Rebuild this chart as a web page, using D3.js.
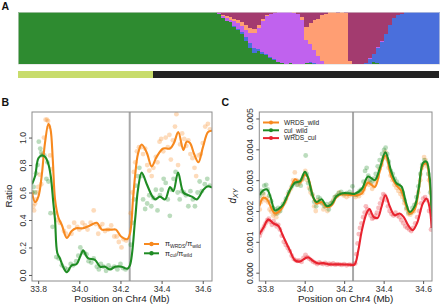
<!DOCTYPE html>
<html><head><meta charset="utf-8">
<script src="https://cdn.jsdelivr.net/npm/d3@7"></script>
<style>
body{margin:0;background:#fff;}
svg{display:block;font-family:"Liberation Sans",Arial,Helvetica,sans-serif;}
</style></head><body>
<svg id="chart" width="440" height="306"></svg>
<script>
// ---------- Panel A data (ancestry proportions per individual) ----------
const clusterKeys = ["green","blue","purple","salmon","maroon"];
const clusterColors = ["#2e8b30","#4a6fdc","#c062ee","#ff9e73","#a33b6f"];
const qGreen = [1,1,1,1,1,1,1,1,1,1,1,1,1,1,1,1,1,1,1,1,1,1,1,1,1,1,1,1,1,1,1,1,1,1,
 1,1,1,1,1,1,1,1,1,1,1,1,1,1,1,1,
 .97,.88,.82,.80,.72,.66,.58,.45,.30,.22,.25,.20,.18,.12,.08,.04,.01,0,.01,0,0,0,.02,.02,0,0,0,0,0,0,0,0,0,0,0,0,0,0,0,.03,.02,0,0,0,0,0,0,0,0,0,0,0,0,0,0,0];
const qBlue = [0,0,0,0,0,0,0,0,0,0,0,0,0,0,0,0,0,0,0,0,0,0,0,0,0,0,0,0,0,0,0,0,0,0,
 0,0,0,0,0,0,0,0,0,0,0,0,0,0,0,0,
 0,0,.01,0,.02,.02,.03,.06,.10,.08,.04,.03,.02,.02,.01,0,0,0,0,0,0,0,0,.02,.02,0,0,0,0,0,0,0,0,0,0,0,0,.02,.10,.17,.28,.42,.58,.75,.88,.95,.97,1,1,1,1,1,1,1,1,1];
const qPurple = [0,0,0,0,0,0,0,0,0,0,0,0,0,0,0,0,0,0,0,0,0,0,0,0,0,0,0,0,0,0,0,0,0,0,
 0,0,0,0,0,0,0,0,0,0,0,0,0,0,0,0,
 .01,.04,.06,.05,.08,.10,.12,.15,.20,.30,.40,.60,.72,.82,.90,.96,.99,1,.99,.98,.97,.85,.45,.35,.25,.15,.05,0,0,0,0,0,0,0,0,0,0,0,.02,0,.02,.03,0,0,0,0,0,0,0,0,0,0,0,0,0,0];
const qSalmon = [0,0,0,0,0,0,0,0,0,0,0,0,0,0,0,0,0,0,0,0,0,0,0,0,0,0,0,0,0,0,0,0,0,0,
 0,0,0,0,0,0,0,0,0,0,0,0,0,0,0,0,
 0,.02,.03,.05,.05,.06,.07,.09,.10,.08,.06,.04,.02,.01,0,0,0,0,0,.02,0,.05,.25,.40,.58,.72,.90,.97,1,1,.99,1,.98,.05,0,0,0,0,0,0,0,0,0,0,0,0,0,0,0,0,0,0,0,0,0,0];
const qMaroon = [0,0,0,0,0,0,0,0,0,0,0,0,0,0,0,0,0,0,0,0,0,0,0,0,0,0,0,0,0,0,0,0,0,0,
 0,0,0,0,0,0,0,0,0,0,0,0,0,0,0,0,
 .02,.06,.08,.10,.13,.16,.20,.25,.30,.32,.25,.13,.06,.03,.01,0,0,0,0,0,.03,.10,.28,.21,.15,.13,.05,.03,0,0,.01,0,.02,.95,1,1,1,.98,.88,.80,.68,.55,.42,.25,.12,.05,.03,0,0,0,0,0,0,0,0,0];
const popNames = ["cultivated","wild"];
const popSizes = [34, 72];
const popColors = ["#c8dc6c","#222222"];

// ---------- Panels B, C shared ----------
const xTicks = [33.8, 34.0, 34.2, 34.4, 34.6];
const markerPos = 34.245;

// ---------- Panel B data ----------
const yTicksB = [0, 0.2, 0.4, 0.6, 0.8, 1.0];
const lineB_wrds = [[33.770,0.60],[33.785,0.53],[33.801,0.57],[33.817,0.72],[33.833,0.96],[33.850,1.10],[33.860,1.06],[33.871,0.84],[33.882,0.55],[33.898,0.42],[33.916,0.36],[33.939,0.27],[33.963,0.32],[33.984,0.34],[34.018,0.34],[34.052,0.36],[34.085,0.38],[34.109,0.33],[34.130,0.33],[34.159,0.33],[34.178,0.33],[34.203,0.28],[34.232,0.26],[34.246,0.30],[34.261,0.55],[34.271,0.72],[34.285,0.88],[34.303,0.95],[34.328,0.89],[34.352,0.79],[34.376,0.86],[34.408,0.92],[34.441,0.92],[34.460,0.96],[34.481,1.04],[34.506,0.91],[34.522,0.97],[34.538,0.96],[34.558,0.88],[34.579,0.82],[34.601,0.93],[34.626,1.04],[34.645,1.05]];
const lineB_cul = [[33.770,0.66],[33.785,0.72],[33.801,0.85],[33.817,0.87],[33.833,0.86],[33.849,0.81],[33.861,0.72],[33.874,0.52],[33.882,0.40],[33.893,0.16],[33.906,0.12],[33.921,0.06],[33.939,0.02],[33.963,0.07],[33.987,0.08],[34.003,0.13],[34.019,0.18],[34.033,0.14],[34.044,0.12],[34.076,0.11],[34.101,0.06],[34.125,0.06],[34.149,0.04],[34.174,0.06],[34.206,0.06],[34.233,0.045],[34.246,0.07],[34.271,0.40],[34.285,0.62],[34.303,0.745],[34.328,0.66],[34.352,0.58],[34.368,0.55],[34.392,0.57],[34.417,0.55],[34.441,0.64],[34.457,0.61],[34.480,0.745],[34.506,0.60],[34.530,0.58],[34.548,0.57],[34.571,0.55],[34.603,0.62],[34.626,0.645],[34.645,0.635]];
const ptsB_wrds = [[33.772,0.60],[33.776,0.50],[33.780,0.47],[33.785,0.52],[33.790,0.55],[33.795,0.60],[33.800,0.64],[33.808,0.73],[33.815,0.66],[33.822,0.88],[33.828,1.00],[33.836,1.13],[33.843,1.13],[33.848,1.12],[33.852,1.08],[33.858,0.87],[33.865,0.77],[33.880,0.45],[33.890,0.40],[33.905,0.38],[33.925,0.32],[33.935,0.30],[33.950,0.35],[33.962,0.30],[33.975,0.38],[33.990,0.35],[34.000,0.33],[34.015,0.38],[34.028,0.36],[34.040,0.33],[34.055,0.38],[34.070,0.47],[34.080,0.37],[34.092,0.30],[34.100,0.35],[34.112,0.37],[34.125,0.32],[34.140,0.33],[34.155,0.36],[34.170,0.28],[34.182,0.28],[34.192,0.24],[34.205,0.20],[34.215,0.26],[34.228,0.25],[34.250,0.45],[34.258,0.60],[34.265,0.75],[34.272,0.82],[34.280,0.90],[34.290,0.93],[34.300,0.93],[34.310,0.88],[34.320,0.92],[34.330,0.80],[34.340,0.76],[34.352,0.72],[34.360,0.78],[34.372,0.86],[34.380,0.82],[34.390,0.97],[34.398,0.99],[34.408,0.90],[34.420,1.00],[34.430,0.93],[34.438,1.02],[34.445,0.84],[34.455,0.98],[34.465,1.08],[34.472,1.17],[34.480,0.80],[34.490,0.95],[34.500,1.03],[34.510,0.99],[34.520,0.94],[34.530,0.98],[34.540,0.88],[34.550,0.85],[34.560,0.78],[34.568,0.72],[34.580,0.87],[34.590,0.88],[34.600,0.96],[34.612,1.08],[34.625,1.10],[34.635,1.06]];
const ptsB_cul = [[33.772,0.60],[33.778,0.64],[33.785,0.60],[33.790,0.74],[33.797,0.80],[33.803,0.97],[33.810,0.92],[33.815,0.89],[33.820,0.87],[33.830,0.87],[33.840,0.70],[33.845,0.82],[33.850,0.68],[33.860,0.45],[33.870,0.35],[33.888,0.13],[33.900,0.12],[33.915,0.07],[33.930,0.05],[33.945,0.04],[33.958,0.08],[33.970,0.07],[33.985,0.10],[33.995,0.14],[34.005,0.20],[34.015,0.17],[34.025,0.16],[34.035,0.15],[34.045,0.10],[34.058,0.09],[34.070,0.12],[34.085,0.06],[34.095,0.04],[34.105,0.08],[34.118,0.06],[34.130,0.03],[34.142,0.07],[34.155,0.05],[34.170,0.06],[34.185,0.04],[34.200,0.08],[34.212,0.05],[34.225,0.04],[34.250,0.22],[34.258,0.38],[34.266,0.55],[34.274,0.65],[34.284,0.72],[34.292,0.78],[34.300,0.72],[34.310,0.55],[34.320,0.48],[34.330,0.52],[34.340,0.58],[34.350,0.50],[34.360,0.56],[34.372,0.62],[34.380,0.47],[34.392,0.58],[34.400,0.62],[34.410,0.70],[34.420,0.67],[34.430,0.55],[34.440,0.43],[34.450,0.62],[34.458,0.70],[34.468,0.75],[34.478,0.60],[34.488,0.55],[34.498,0.61],[34.508,0.60],[34.518,0.58],[34.530,0.50],[34.540,0.61],[34.552,0.55],[34.562,0.50],[34.575,0.60],[34.585,0.68],[34.595,0.61],[34.610,0.66],[34.622,0.70],[34.635,0.65]];

// ---------- Panel C data ----------
const yTicksC = [0, 0.001, 0.002, 0.003, 0.004, 0.005];
const lineC_wrdsWild = [[33.770,0.00215],[33.790,0.00243],[33.809,0.00238],[33.827,0.00215],[33.849,0.00192],[33.866,0.00196],[33.890,0.00215],[33.925,0.00265],[33.951,0.00303],[33.976,0.00292],[34.001,0.00318],[34.016,0.0031],[34.043,0.00245],[34.060,0.00224],[34.086,0.00229],[34.111,0.00213],[34.136,0.00218],[34.161,0.00245],[34.187,0.00254],[34.229,0.00252],[34.254,0.00251],[34.288,0.00256],[34.321,0.00292],[34.355,0.00278],[34.381,0.0033],[34.409,0.0038],[34.440,0.0031],[34.465,0.00283],[34.490,0.00265],[34.512,0.0022],[34.532,0.00192],[34.557,0.00205],[34.578,0.0027],[34.599,0.00348],[34.617,0.00354],[34.633,0.0029],[34.643,0.0021]];
const lineC_culWild = [[33.770,0.00251],[33.790,0.00267],[33.809,0.0027],[33.827,0.00245],[33.849,0.00202],[33.866,0.00206],[33.890,0.0022],[33.925,0.00267],[33.951,0.00292],[33.976,0.00296],[34.001,0.00327],[34.016,0.0031],[34.043,0.00245],[34.060,0.00229],[34.086,0.00238],[34.111,0.00216],[34.136,0.00222],[34.161,0.00248],[34.187,0.00257],[34.229,0.00257],[34.254,0.00256],[34.290,0.00272],[34.321,0.00312],[34.355,0.003],[34.381,0.0034],[34.409,0.0039],[34.440,0.00325],[34.465,0.0029],[34.490,0.0028],[34.512,0.0023],[34.532,0.00197],[34.557,0.00215],[34.578,0.00275],[34.599,0.00355],[34.617,0.0036],[34.633,0.0031],[34.643,0.0018]];
const lineC_wrdsCul = [[33.770,0.00125],[33.790,0.00145],[33.816,0.00172],[33.841,0.0016],[33.866,0.00152],[33.891,0.00118],[33.925,0.00072],[33.951,0.0004],[33.976,0.00036],[34.001,0.00046],[34.018,0.0005],[34.043,0.00038],[34.068,0.0003],[34.094,0.00031],[34.128,0.00027],[34.176,0.00027],[34.226,0.00026],[34.252,0.00026],[34.271,0.0007],[34.288,0.00132],[34.313,0.00192],[34.328,0.00206],[34.350,0.0018],[34.370,0.00178],[34.389,0.00213],[34.409,0.00251],[34.431,0.00215],[34.456,0.00186],[34.481,0.00192],[34.502,0.0018],[34.524,0.00154],[34.547,0.00138],[34.570,0.00162],[34.599,0.00225],[34.618,0.0024],[34.633,0.0021],[34.643,0.00145]];
const ptsC_wrdsWild = [[33.772,0.00205],[33.778,0.00228],[33.785,0.0024],[33.792,0.00255],[33.800,0.00235],[33.808,0.00242],[33.815,0.00228],[33.822,0.00205],[33.830,0.00198],[33.840,0.00185],[33.848,0.0019],[33.856,0.0018],[33.864,0.00193],[33.872,0.002],[33.882,0.0021],[33.900,0.0023],[33.915,0.00255],[33.930,0.00272],[33.942,0.003],[33.950,0.00325],[33.958,0.003],[33.966,0.00285],[33.975,0.0029],[33.985,0.003],[33.995,0.00315],[34.003,0.0033],[34.012,0.003],[34.022,0.00275],[34.030,0.0026],[34.040,0.0025],[34.048,0.00215],[34.056,0.002],[34.065,0.00235],[34.075,0.0023],[34.085,0.00225],[34.095,0.00205],[34.105,0.00215],[34.115,0.002],[34.125,0.00215],[34.135,0.00225],[34.145,0.00235],[34.155,0.00245],[34.165,0.0025],[34.175,0.0026],[34.185,0.00255],[34.198,0.0025],[34.212,0.00245],[34.225,0.0025],[34.240,0.00255],[34.258,0.00245],[34.266,0.00252],[34.275,0.00248],[34.284,0.00262],[34.292,0.00258],[34.300,0.0027],[34.310,0.00288],[34.318,0.003],[34.326,0.00285],[34.334,0.0029],[34.342,0.00272],[34.350,0.0028],[34.360,0.00295],[34.370,0.0031],[34.378,0.00335],[34.390,0.0035],[34.400,0.00375],[34.408,0.00392],[34.415,0.0037],[34.425,0.0034],[34.435,0.00315],[34.445,0.003],[34.455,0.00285],[34.465,0.00275],[34.475,0.00265],[34.485,0.00255],[34.495,0.00245],[34.505,0.00225],[34.515,0.00205],[34.525,0.0019],[34.535,0.00188],[34.545,0.00195],[34.555,0.002],[34.565,0.00225],[34.575,0.0026],[34.585,0.003],[34.595,0.0034],[34.605,0.00375],[34.612,0.00365],[34.620,0.00345],[34.630,0.003],[34.640,0.00225]];
const ptsC_culWild = [[33.772,0.0025],[33.780,0.00265],[33.788,0.00258],[33.795,0.00282],[33.805,0.00285],[33.812,0.0027],[33.820,0.0025],[33.830,0.00232],[33.840,0.0021],[33.850,0.00205],[33.858,0.00192],[33.866,0.0021],[33.876,0.002],[33.890,0.00222],[33.905,0.0024],[33.920,0.00262],[33.935,0.0028],[33.948,0.0029],[33.960,0.00285],[33.970,0.00295],[33.980,0.00282],[33.990,0.00305],[34.005,0.0038],[34.010,0.0032],[34.018,0.0029],[34.028,0.0027],[34.038,0.00255],[34.048,0.0023],[34.058,0.00215],[34.068,0.00245],[34.078,0.0024],[34.090,0.00225],[34.100,0.00215],[34.112,0.00222],[34.122,0.00205],[34.132,0.00225],[34.142,0.0023],[34.152,0.00245],[34.162,0.0025],[34.172,0.00258],[34.185,0.00262],[34.198,0.00255],[34.212,0.00258],[34.228,0.00262],[34.242,0.0028],[34.258,0.00252],[34.268,0.00258],[34.278,0.00265],[34.288,0.0027],[34.298,0.00295],[34.306,0.0033],[34.314,0.0034],[34.322,0.00315],[34.330,0.003],[34.340,0.00295],[34.350,0.00305],[34.360,0.0032],[34.370,0.00345],[34.380,0.00365],[34.392,0.00385],[34.402,0.00398],[34.410,0.00405],[34.418,0.00385],[34.426,0.0036],[34.436,0.0033],[34.446,0.0032],[34.456,0.00305],[34.466,0.00295],[34.476,0.00285],[34.486,0.00275],[34.496,0.0026],[34.506,0.00235],[34.516,0.0021],[34.526,0.00195],[34.536,0.00195],[34.546,0.0021],[34.556,0.0022],[34.566,0.00245],[34.576,0.0028],[34.586,0.0032],[34.596,0.0035],[34.606,0.00365],[34.616,0.00355],[34.626,0.0032],[34.636,0.0026]];
const ptsC_wrdsCul = [[33.772,0.0012],[33.778,0.0013],[33.786,0.0014],[33.794,0.0015],[33.802,0.0016],[33.810,0.0017],[33.818,0.00175],[33.826,0.00165],[33.834,0.00155],[33.842,0.00168],[33.850,0.00158],[33.858,0.0015],[33.866,0.00155],[33.874,0.0014],[33.884,0.0012],[33.894,0.001],[33.904,0.0009],[33.914,0.0008],[33.924,0.0007],[33.934,0.00055],[33.944,0.00045],[33.954,0.0004],[33.964,0.00038],[33.974,0.0004],[33.984,0.00035],[33.994,0.00048],[34.004,0.00058],[34.014,0.0005],[34.024,0.00045],[34.034,0.0004],[34.044,0.00035],[34.054,0.00032],[34.064,0.00028],[34.074,0.00033],[34.084,0.0003],[34.094,0.00028],[34.104,0.00032],[34.114,0.00026],[34.124,0.00029],[34.134,0.00027],[34.144,0.0003],[34.154,0.00026],[34.164,0.00028],[34.176,0.00027],[34.188,0.00025],[34.200,0.00028],[34.212,0.00024],[34.226,0.00026],[34.240,0.00025],[34.256,0.0003],[34.262,0.0006],[34.268,0.00095],[34.274,0.00125],[34.280,0.00145],[34.288,0.0016],[34.296,0.0018],[34.304,0.00195],[34.310,0.00215],[34.318,0.00205],[34.326,0.00195],[34.334,0.00185],[34.342,0.00175],[34.350,0.00178],[34.358,0.00185],[34.366,0.00195],[34.374,0.0021],[34.382,0.00225],[34.390,0.0024],[34.398,0.00255],[34.406,0.0025],[34.414,0.00235],[34.422,0.00215],[34.430,0.002],[34.440,0.0019],[34.450,0.00185],[34.460,0.00195],[34.470,0.00185],[34.480,0.0018],[34.490,0.0017],[34.500,0.0016],[34.510,0.0015],[34.520,0.00145],[34.530,0.0014],[34.540,0.00135],[34.550,0.00145],[34.560,0.0016],[34.570,0.0018],[34.580,0.002],[34.590,0.00225],[34.600,0.0024],[34.610,0.00245],[34.620,0.00235],[34.630,0.002],[34.640,0.0014]];

const ORANGE = "#f7891f", GREEN = "#1f8c24", RED = "#e8232f";

const svg = d3.select("#chart");
svg.append("rect").attr("width",440).attr("height",306).attr("fill","#fff");

// ================= Panel A =================
const nInd = qGreen.length;
const xA = d3.scaleBand().domain(d3.range(nInd)).range([18, 439]).padding(0);
const yA = d3.scaleLinear([0, 1], [64, 12]);
const tableA = d3.range(nInd).map(i => ({green:qGreen[i], blue:qBlue[i], purple:qPurple[i], salmon:qSalmon[i], maroon:qMaroon[i]}));
const stackA = d3.stack().keys(clusterKeys)(tableA);
const gA = svg.append("g").attr("shape-rendering","crispEdges");
stackA.forEach((layer, k) => {
  gA.append("g").attr("fill", clusterColors[k]).selectAll("rect")
    .data(layer.map((d,i)=>({d,i})).filter(o => o.d[1] - o.d[0] > 0))
    .join("rect")
    .attr("x", o => xA(o.i))
    .attr("width", xA.bandwidth() + 0.6)
    .attr("y", o => yA(o.d[1]))
    .attr("height", o => yA(o.d[0]) - yA(o.d[1]));
});
gA.append("rect").attr("x",18).attr("y",12).attr("width",421).attr("height",52)
  .attr("fill","none").attr("stroke","#ddd").attr("stroke-width",0.6);
// population bar
let cum = 0;
popSizes.forEach((n, k) => {
  const x0 = xA(cum), x1 = xA(cum + n - 1) + xA.bandwidth();
  svg.append("rect").attr("x", x0).attr("y", 71).attr("width", x1 - x0).attr("height", 7)
     .attr("fill", popColors[k]).attr("shape-rendering","crispEdges");
  cum += n;
});

// panel letters
const letter = (t,x,y) => svg.append("text").attr("x",x).attr("y",y).text(t)
  .attr("font-size",10.5).attr("font-weight","bold").attr("fill","#111");
letter("A",1.5,10); letter("B",1.5,105.5); letter("C",221.5,105.5);

// ================= generic scatter/line panel =================
function panel(cfg){
  const {x, y, box, yTicks, yFmt, id} = cfg;
  const g = svg.append("g");
  const clipId = "clip"+id;
  svg.append("clipPath").attr("id",clipId).append("rect")
    .attr("x",box[0]).attr("y",box[1]).attr("width",box[2]-box[0]).attr("height",box[3]-box[1]);
  const inner = g.append("g").attr("clip-path",`url(#${clipId})`);
  // marker line
  inner.append("line").attr("x1",x(markerPos)).attr("x2",x(markerPos))
    .attr("y1",box[1]).attr("y2",box[3]).attr("stroke","#a8a8a8").attr("stroke-width",2);
  cfg.series.forEach(s => {
    inner.append("g").attr("fill", s.color).attr("fill-opacity",0.3).selectAll("circle")
      .data(s.pts).join("circle").attr("cx",d=>x(d[0])).attr("cy",d=>y(d[1])).attr("r",2.4);
  });
  const line = d3.line().x(d=>x(d[0])).y(d=>y(d[1])).curve(d3.curveCatmullRom.alpha(0.5));
  cfg.series.forEach(s => {
    inner.append("path").attr("d", line(s.line)).attr("fill","none")
      .attr("stroke", s.color).attr("stroke-width",2.1).attr("stroke-linejoin","round");
  });
  // box
  g.append("rect").attr("x",box[0]).attr("y",box[1]).attr("width",box[2]-box[0]).attr("height",box[3]-box[1])
    .attr("fill","none").attr("stroke","#8c8c8c").attr("stroke-width",1);
  // x axis
  const ax = g.append("g").attr("transform",`translate(0,${box[3]})`)
    .call(d3.axisBottom(x).tickValues(xTicks).tickFormat(d3.format(".1f")).tickSize(3).tickPadding(2));
  ax.select(".domain").remove();
  ax.selectAll("line").attr("stroke","#555");
  ax.selectAll("text").attr("font-size",8.6).attr("fill","#333").attr("font-family","Liberation Sans, Arial, sans-serif")
    .attr("dy",0).attr("y",10.5);
  // y axis
  const ay = g.append("g").attr("transform",`translate(${box[0]},0)`)
    .call(d3.axisLeft(y).tickValues(yTicks).tickFormat(yFmt).tickSize(3));
  ay.select(".domain").remove();
  ay.selectAll("line").attr("stroke","#555");
  ay.selectAll("text").attr("font-size",8.6).attr("fill","#333").attr("font-family","Liberation Sans, Arial, sans-serif")
    .attr("transform","rotate(-90)").attr("x",0).attr("y",-6).attr("dy",0).attr("text-anchor","middle");
  // x title
  g.append("text").attr("x",(box[0]+box[2])/2).attr("y",302).attr("text-anchor","middle")
    .attr("font-size",9.8).attr("fill","#222").text("Position on Chr4 (Mb)");
  return g;
}

// ================= Panel B =================
const xB = d3.scaleLinear([33.77, 34.645], [32, 212]);
const yB = d3.scaleLinear([-0.044, 1.186], [281, 112]);
const gB = panel({id:"B", x:xB, y:yB, box:[32,112,212,281], yTicks:yTicksB, yFmt:d3.format(".1f"),
  series:[{color:ORANGE, pts:ptsB_wrds, line:lineB_wrds},{color:GREEN, pts:ptsB_cul, line:lineB_cul}]});
gB.append("text").attr("transform","translate(12,196) rotate(-90)").attr("text-anchor","middle")
  .attr("font-size",9.8).attr("fill","#222").text("Ratio");
// legend B
const legB = [{c:ORANGE, a:"WRDS", b:"wild"},{c:GREEN, a:"cul", b:"wild"}];
legB.forEach((L,i) => {
  const yy = 244 + i*9.3;
  gB.append("line").attr("x1",144).attr("x2",159).attr("y1",yy).attr("y2",yy).attr("stroke",L.c).attr("stroke-width",2);
  gB.append("circle").attr("cx",151.5).attr("cy",yy).attr("r",2.2).attr("fill",L.c);
  const t = gB.append("text").attr("x",165).attr("y",yy+2.3).attr("font-size",7.2).attr("fill","#222");
  t.append("tspan").text("π");
  t.append("tspan").attr("font-size",5).attr("dy",1.6).text(L.a);
  t.append("tspan").attr("dy",-1.6).text("/π");
  t.append("tspan").attr("font-size",5).attr("dy",1.6).text(L.b);
});

// ================= Panel C =================
const xC = d3.scaleLinear([33.77, 34.645], [259.3, 432]);
const yC = d3.scaleLinear([-0.00027, 0.00521], [281, 112]);
const gC = panel({id:"C", x:xC, y:yC, box:[259.3,112,432,281], yTicks:yTicksC, yFmt:d3.format(".3f"),
  series:[{color:ORANGE, pts:ptsC_wrdsWild, line:lineC_wrdsWild},{color:GREEN, pts:ptsC_culWild, line:lineC_culWild},{color:RED, pts:ptsC_wrdsCul, line:lineC_wrdsCul}]});
const dl = gC.append("text").attr("transform","translate(236,196) rotate(-90)").attr("text-anchor","middle")
  .attr("font-size",10).attr("fill","#222").attr("font-style","italic");
dl.append("tspan").text("d");
dl.append("tspan").attr("font-size",7).attr("dy",2).text("XY");
const legC = [{c:ORANGE,t:"WRDS_wild"},{c:GREEN,t:"cul_wild"},{c:RED,t:"WRDS_cul"}];
legC.forEach((L,i) => {
  const yy = 122.5 + i*7.8;
  gC.append("line").attr("x1",263).attr("x2",279).attr("y1",yy).attr("y2",yy).attr("stroke",L.c).attr("stroke-width",2);
  gC.append("circle").attr("cx",271).attr("cy",yy).attr("r",2).attr("fill",L.c);
  gC.append("text").attr("x",284).attr("y",yy+2.3).attr("font-size",6.6).attr("fill","#222").text(L.t);
});
</script></body></html>
